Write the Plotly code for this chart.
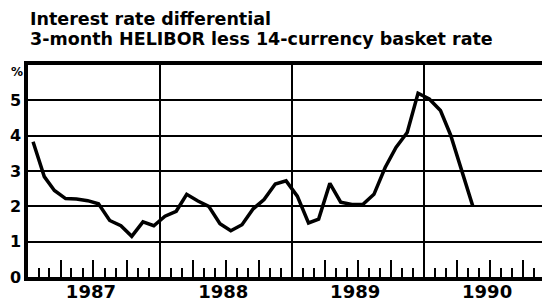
import plotly.graph_objects as go

# ---- data ----
months = [f"{y}-{m:02d}-15" for y in (1987, 1988, 1989, 1990) for m in range(1, 13)][:41]
differential = [3.83, 2.84, 2.45, 2.22, 2.21, 2.16, 2.07, 1.60, 1.45, 1.15, 1.56, 1.45,
                1.72, 1.86, 2.34, 2.15, 2.00, 1.51, 1.31, 1.48, 1.93, 2.19, 2.63, 2.72,
                2.29, 1.53, 1.64, 2.65, 2.12, 2.05, 2.05, 2.34, 3.10, 3.67, 4.09, 5.20,
                5.04, 4.71, 4.02, 3.00, 2.02]
year_label_pos = ["1987-06-24", "1988-06-24", "1989-06-24", "1990-06-24"]
year_labels = ["1987", "1988", "1989", "1990"]
year_bounds = ["1988-01-01", "1989-01-01", "1990-01-01"]
y_ticks = [0, 1, 2, 3, 4, 5]
title_lines = ["Interest rate differential", "3-month HELIBOR less 14-currency basket rate"]

x_range = ["1987-01-01", "1990-12-15"]

# the page body adds an 8px offset; the figure is sized to fit the 550x303 window
W, H = 542, 295
ML, MR, MT, MB = 20, 0, 57, 26
PH = H - MT - MB

fig = go.Figure()
fig.add_trace(go.Scatter(x=months, y=differential, mode="lines",
                         line=dict(color="black", width=3.5), hoverinfo="skip",
                         showlegend=False))
# helper traces so overlay axes render
fig.add_trace(go.Scatter(x=[], y=[], xaxis="x2", showlegend=False))
fig.add_trace(go.Scatter(x=[], y=[], xaxis="x3", showlegend=False))

bold = dict(family="DejaVu Sans", color="black", weight="bold")

fig.update_layout(
    width=W, height=H,
    margin=dict(l=ML, r=MR, t=MT, b=MB),
    paper_bgcolor="white", plot_bgcolor="white",
    xaxis=dict(
        type="date", range=x_range,
        tickmode="array", tickvals=year_label_pos, ticktext=year_labels,
        ticks="", showgrid=False, zeroline=False,
        showline=True, linecolor="black", linewidth=3.5, mirror=True,
        tickfont=dict(size=18, **bold), ticklabelstandoff=-4,
    ),
    xaxis2=dict(
        type="date", overlaying="x", matches="x", anchor="y", side="bottom",
        tickmode="linear", tick0="1987-01-01", dtick="M3",
        ticks="inside", ticklen=17, tickwidth=2, tickcolor="black",
        showticklabels=False, showgrid=False, zeroline=False, showline=False,
        minor=dict(ticks="inside", ticklen=9, tickwidth=2, tickcolor="black",
                   dtick="M1", tick0="1987-01-01", showgrid=False),
    ),
    xaxis3=dict(
        type="date", overlaying="x", matches="x", anchor="y",
        tickmode="array", tickvals=year_bounds,
        ticks="", showticklabels=False, showgrid=True,
        gridcolor="black", gridwidth=2, zeroline=False, showline=False,
    ),
    yaxis=dict(
        range=[0, 6], tickmode="array", tickvals=y_ticks,
        ticks="", showgrid=True, gridcolor="black", gridwidth=2,
        zeroline=False, showline=True, linecolor="black", linewidth=3.5,
        tickfont=dict(size=16, **bold), ticklabelstandoff=0,
    ),
    annotations=[
        dict(text="%", xref="paper", yref="paper", x=-0.036, y=1.01,
             xanchor="left", yanchor="top", showarrow=False,
             font=dict(size=12, **bold)),
        dict(text=title_lines[0], xref="paper", yref="paper", x=0.0,
             y=1 + (MT - 10.5) / PH, xanchor="left", yanchor="middle", showarrow=False,
             font=dict(size=17.5, **bold)),
        dict(text=title_lines[1], xref="paper", yref="paper", x=0.0,
             y=1 + (MT - 31) / PH, xanchor="left", yanchor="middle", showarrow=False,
             font=dict(size=17.5, **bold)),
    ],
)

fig.write_html("out.html")
